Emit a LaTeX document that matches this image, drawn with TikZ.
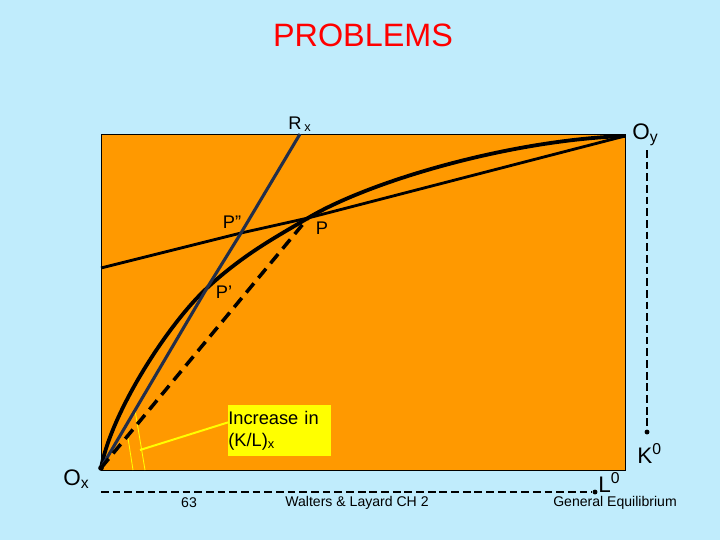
\documentclass[tikz,border=0pt]{standalone}
\usepackage{fontspec}
\setmainfont{Liberation Sans}
\usetikzlibrary{positioning}
\definecolor{bgblue}{RGB}{192,236,252}
\definecolor{boxor}{RGB}{255,153,0}
\definecolor{rayblue}{RGB}{34,46,74}
\definecolor{hiyel}{RGB}{255,255,0}
\tikzset{
  ttl/.style={font=\fontsize{23}{27}\selectfont, text=red, inner sep=0pt},
  lbl/.style={font=\fontsize{13}{15}\selectfont, inner sep=0pt},
  biglbl/.style={font=\fontsize{16}{18}\selectfont, inner sep=0pt},
  foot/.style={font=\fontsize{10}{12}\selectfont, inner sep=0pt},
  % contract curve and price line
  cc/.style={line width=2.7pt, draw=black},
  pline/.style={line width=2pt, draw=black},
  ray/.style={line width=2.2pt, draw=rayblue},
  dray/.style={line width=2.5pt, draw=black, dash pattern=on 8.5pt off 5pt},
  dim/.style={line width=1.3pt, draw=black, dash pattern=on 5.5pt off 2.8pt},
  yl/.style={line width=0.6pt, draw=hiyel},
  ptr/.style={line width=1.4pt, draw=hiyel},
  dot/.style={circle, fill=black, inner sep=0pt, minimum size=4pt}
}
\begin{document}
\begin{tikzpicture}[x=0.025cm, y=-0.025cm]
  \fill[bgblue] (0,0) rectangle (720,540);
  \useasboundingbox (0,0) rectangle (720,540);
  \filldraw[fill=boxor, draw=black, line width=0.6pt] (101,134) rectangle (625,470);

  \coordinate (Ox) at (101,468);
  \coordinate (Oy) at (625,136);
  \coordinate (P) at (308,218);
  \coordinate (Pp) at (207,288);
  \coordinate (Ppp) at (241,233);
  \coordinate (wl) at (101,268);
  \coordinate (rx) at (300,134);

  % angle marks
  \coordinate (a1) at (135,410);
  \coordinate (a2) at (128,438);
  \coordinate (b1) at (145,470);
  \coordinate (b2) at (133,470);
  \draw[yl] (a1) -- (b1);
  \draw[yl] (a2) -- (b2);

  \node[lbl, fill=hiyel, anchor=north west, text width=2.575cm, minimum height=1.275cm,
        align=left] (incr) at (228,405) {Increase in\\(K/L)\textsubscript{x}};
  \coordinate (tip) at (140,450);
  \draw[ptr] ([yshift=0.21cm]incr.west) -- (tip);

  \draw[cc] (Ox) .. controls (112,410) and (170,322) .. (Pp)
            .. controls (245,253) and (278,236) .. (P)
            .. controls (370,181) and (510,140) .. (Oy);
  \draw[pline] (wl) -- (Ppp) -- (P) -- (Oy);
  \draw[ray] (Ox) -- (Pp) -- (Ppp) -- (rx);
  \draw[dray] (Ox) -- (P);
  \node[dot] (ox) at (Ox) {};

  \node[ttl] (title) at (363,35) {PROBLEMS};
  \node[lbl, anchor=base west] (rxl) at (288,129) {R\kern2pt\textsubscript{x}};
  \node[biglbl, anchor=base west] (oyl) at (632,139) {O\textsubscript{y}};
  \node[lbl] (pppl) at (232,222) {P”};
  \node[lbl] (pl) at (322,228) {P};
  \node[lbl] (ppl) at (224,292) {P’};
  \node[biglbl, anchor=base west] (oxl) at (63,485) {O\textsubscript{x}};

  % endowment
  \coordinate (ls) at (101,492);
  \node[dot, minimum size=3.5pt] (le) at (595,492) {};
  \coordinate (ks) at (647,150);
  \node[dot, minimum size=3.5pt] (ke) at (647,432) {};
  \draw[dim] (ls) -- (le);
  \draw[dim] (ks) -- (ke);
  \node[biglbl, anchor=base west] (k0) at (637,463) {K\textsuperscript{0}};
  \node[biglbl, anchor=base west] (l0) at (598,492) {L\textsuperscript{0}};

  \node[foot] (pg) at (189,503) {63};
  \node[foot] (src) at (357,503) {Walters \& Layard CH 2};
  \node[foot] (ch) at (615,503) {General Equilibrium};
\end{tikzpicture}
\end{document}
